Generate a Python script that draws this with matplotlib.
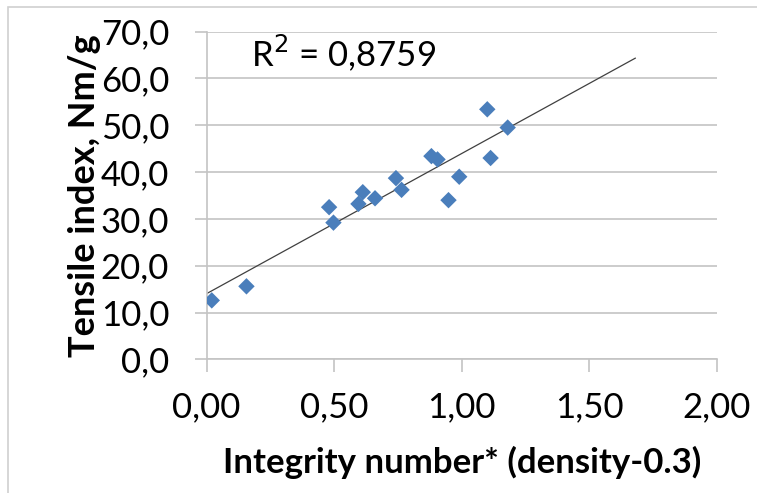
import numpy as np
import matplotlib.pyplot as plt
from matplotlib.patches import Rectangle
from matplotlib.ticker import FuncFormatter

plt.rcParams["font.family"] = ["Lato", "DejaVu Sans"]

# data
integrity = [0.02, 0.156, 0.48, 0.497, 0.595, 0.612, 0.66, 0.742,
             0.764, 0.881, 0.905, 0.948, 0.99, 1.10, 1.113, 1.18]
tensile = [12.6, 15.6, 32.5, 29.2, 33.2, 35.7, 34.4, 38.7,
           36.2, 43.4, 42.7, 34.0, 39.0, 53.4, 43.0, 49.5]
r2_label = "R$^2$ = 0,8759"
forecast = 0.5

fig = plt.figure(figsize=(7.57, 4.93), dpi=100)
ax = fig.add_axes([0.273, 0.271, 0.674, 0.665])

# chart area border (only left/top visible in the reference)
fig.patches.append(
    Rectangle((8 / 757, -0.1), 1.2, 1 - 7 / 493 + 0.1, transform=fig.transFigure,
              fill=False, ec="#d0d0d0", lw=1.2)
)

ax.scatter(integrity, tensile, marker="D", s=70, color="#4a7ebb",
           edgecolors="none", zorder=3)

# linear trendline, forward forecast like Excel
slope, icpt = np.polyfit(integrity, tensile, 1)
xt = np.array([0.0, max(integrity) + forecast])
ax.plot(xt, slope * xt + icpt, color="#404040", lw=0.9, zorder=2)

ax.text(0.175, 65.5, r2_label, fontsize=25, va="center", ha="left")

ax.set_xlim(0, 2)
ax.set_ylim(0, 70)
ax.set_xticks(np.arange(0, 2.01, 0.5))
ax.set_yticks(np.arange(0, 70.1, 10))
ax.xaxis.set_major_formatter(FuncFormatter(lambda v, p: f"{v:.2f}".replace(".", ",")))
ax.yaxis.set_major_formatter(FuncFormatter(lambda v, p: f"{v:.1f}".replace(".", ",")))

ax.grid(axis="y", color="#c4c4c4", lw=1.2)
ax.set_axisbelow(True)
for s in ["top", "right"]:
    ax.spines[s].set_visible(False)
for s in ["left", "bottom"]:
    ax.spines[s].set_color("#c4c4c4")
    ax.spines[s].set_linewidth(1.2)

ax.tick_params(axis="both", colors="#c4c4c4", labelcolor="black",
               labelsize=25, length=9, width=1.2)
ax.tick_params(axis="y", pad=18)
ax.tick_params(axis="x", pad=14)

ax.set_xlabel("Integrity number* (density-0.3)", fontsize=25,
              fontweight="bold", labelpad=16)
ax.set_ylabel("Tensile index, Nm/g", fontsize=26, fontweight="bold",
              labelpad=0)

fig.savefig("out.png", dpi=100, facecolor="white")
